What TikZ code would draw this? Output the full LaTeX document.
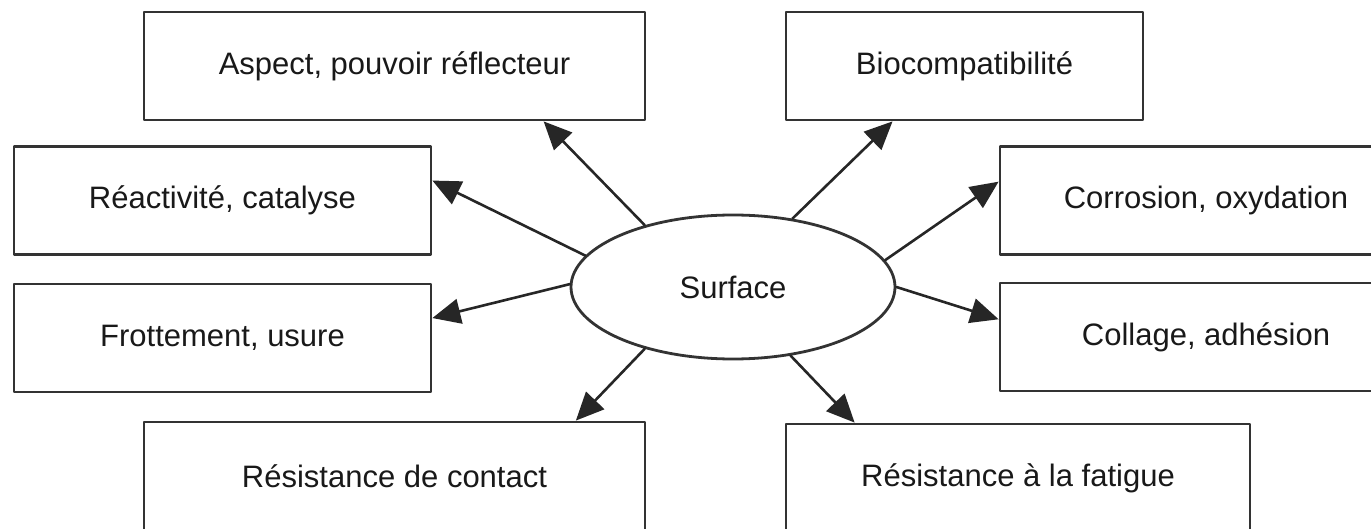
\documentclass[tikz,border=0pt]{standalone}
\usepackage{fontspec}
\setmainfont{Liberation Sans}
\usetikzlibrary{calc,shapes.geometric,arrows.meta}
\tikzstyle{every node}=[font=\fontsize{15.5}{18}\selectfont,text=black!90]
\tikzstyle{every path}=[line width=1.3pt,line cap=round,line join=round]
\tikzstyle{box}=[draw=black!80,line width=1.4pt,fill=white,inner sep=0pt,minimum height=54pt]
\tikzstyle{arr}=[-{Triangle[length=14pt,width=12.5pt]},draw=black!85,fill=black!85]

\begin{document}
\begin{tikzpicture}[x=0.5pt,y=-0.5pt]
  \useasboundingbox (0,0) rectangle (1371,529);
  \fill[white] (0,0) rectangle (1371,529);
  % centre
  \node[draw=black!80,line width=1.4pt,ellipse,minimum width=162pt,minimum height=72pt,inner sep=0pt] (surf) at (733,287) {Surface};
  % boxes
  \foreach \n/\x/\y/\w/\txt in {
      asp/394.5/66/250.5/{Aspect, pouvoir réflecteur},
      bio/964.5/66/178.5/{Biocompatibilité},
      rea/222.5/200.5/208.5/{Réactivité, catalyse},
      cor/1206/200.5/206/{Corrosion, oxydation},
      fro/222.5/338/208.5/{Frottement, usure},
      col/1206/337/206/{Collage, adhésion},
      con/394.5/476/250.5/{Résistance de contact},
      fat/1018/478/232/{Résistance à la fatigue}} {
    \node[box,minimum width=\w pt] (\n) at (\x,\y) {\txt};
  }
  % arrows
  \foreach \ang/\n/\a/\b/\f in {
      145/asp/south west/south east/0.796,
      49/bio/south west/south east/0.30,
      168.5/rea/north east/south east/0.32,
      179.5/fro/north east/south east/0.32,
      215/con/north west/north east/0.86,
      10.7/cor/north west/south west/0.33,
      0.5/col/north west/south west/0.34,
      310/fat/north west/north east/0.15} {
    \draw[arr] (surf.\ang) -- ($(\n.\a)!\f!(\n.\b)$);
  }
\end{tikzpicture}
\end{document}
